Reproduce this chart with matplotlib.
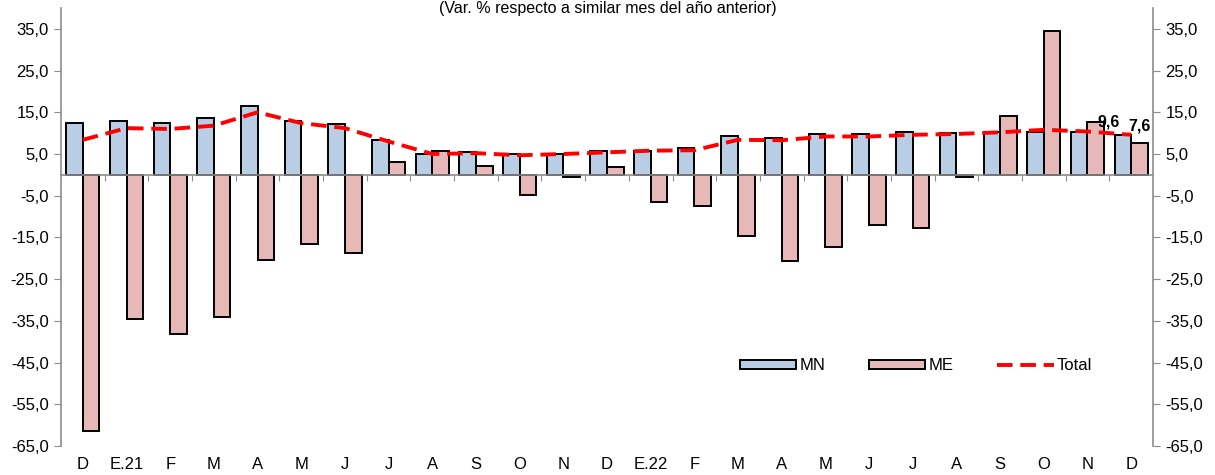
import matplotlib

matplotlib.use("Agg")
import matplotlib.pyplot as plt
from matplotlib.patches import Patch
from matplotlib.lines import Line2D
from matplotlib.ticker import FuncFormatter

plt.rcParams["font.family"] = ["Liberation Sans", "DejaVu Sans"]

months = ["D", "E.21", "F", "M", "A", "M", "J", "J", "A", "S", "O", "N",
          "D", "E.22", "F", "M", "A", "M", "J", "J", "A", "S", "O", "N", "D"]
mn = [12.4, 12.9, 12.5, 13.7, 16.4, 13.0, 12.1, 8.3, 5.0, 5.4, 5.0, 5.0,
      5.6, 5.8, 6.4, 9.3, 8.8, 9.9, 9.7, 10.2, 10.0, 10.2, 10.3, 10.2, 9.6]
me = [-61.4, -34.5, -38.1, -34.0, -20.4, -16.5, -18.7, 3.0, 5.6, 2.1, -4.8, -0.6,
      1.8, -6.5, -7.4, -14.6, -20.6, -17.3, -12.0, -12.7, -0.4, 14.0, 34.5, 12.6, 7.6]
total = [8.4, 11.2, 11.0, 11.8, 15.0, 12.4, 11.2, 8.0, 5.0, 5.2, 4.7, 5.0,
         5.4, 5.8, 5.9, 8.4, 8.3, 9.2, 9.2, 9.6, 9.8, 10.2, 10.8, 10.4, 9.6]
yticks = [35, 25, 15, 5, -5, -15, -25, -35, -45, -55, -65]

c_mn = "#b9cde5"
c_me = "#e6b9b8"
grey = "#8c8c8c"


def main():
    fig = plt.figure(figsize=(12.15, 4.75), dpi=100)
    ax = fig.add_axes([61 / 1215, 1 - 446 / 475, 1092 / 1215, 438 / 475])
    x = list(range(len(months)))
    w = 0.38

    ax.bar([i - w / 2 for i in x], mn, width=w, color=c_mn,
           edgecolor="black", linewidth=1.4, zorder=2)
    ax.bar([i + w / 2 for i in x], me, width=w, color=c_me,
           edgecolor="black", linewidth=1.4, zorder=2)
    ax.plot(x, total, color="red", lw=2.8, linestyle=(0, (4, 2)), zorder=3)

    # etiquetas del último mes
    ax.annotate(f"{total[-1]:.1f}".replace(".", ","), (x[-1], total[-1]),
                xytext=(-16, 9), textcoords="offset points", ha="center",
                va="center", fontsize=11.5, fontweight="bold")
    ax.annotate(f"{me[-1]:.1f}".replace(".", ","), (x[-1] + w / 2, me[-1]),
                xytext=(0, 12), textcoords="offset points", ha="center",
                va="center", fontsize=11.5, fontweight="bold")

    ax.set_xlim(-0.5, len(months) - 0.5)
    ax.set_ylim(-65, 40)
    ax.set_yticks(yticks)
    ax.yaxis.set_major_formatter(FuncFormatter(lambda v, p: f"{v:.1f}".replace(".", ",")))
    ax.tick_params(axis="y", left=True, right=True, labelleft=True, labelright=True,
                   direction="out", length=5, color=grey, labelsize=12, pad=4)

    ax.spines["top"].set_visible(False)
    for s in ["left", "right"]:
        ax.spines[s].set_color(grey)
        ax.spines[s].set_linewidth(1.2)
    ax.spines["bottom"].set_position(("data", 0))
    ax.spines["bottom"].set_color(grey)
    ax.spines["bottom"].set_linewidth(1.2)
    ax.set_xticks([i - 0.5 for i in range(1, len(months))])
    ax.set_xticklabels([])
    ax.tick_params(axis="x", direction="out", length=4, color=grey)

    sec = ax.secondary_xaxis(0.0)
    sec.set_xticks(x)
    sec.set_xticklabels(months, fontsize=12)
    sec.tick_params(length=0, pad=8)
    sec.spines["bottom"].set_visible(False)

    handles = [Patch(facecolor=c_mn, edgecolor="black", linewidth=1.4),
               Patch(facecolor=c_me, edgecolor="black", linewidth=1.4),
               Line2D([], [], color="red", lw=2.8, linestyle=(0, (4, 2)))]
    ax.legend(handles, ["MN", "ME", "Total"], loc="center",
              bbox_to_anchor=(0.783, 0.183), ncol=3, frameon=False,
              fontsize=12, handlelength=3.4, handleheight=0.45,
              handletextpad=0.2, columnspacing=2.6)

    fig.text(0.5, 0.998, "(Var. % respecto a similar mes del año anterior)",
             ha="center", va="top", fontsize=11.5)

    fig.savefig("out.png", dpi=100)


if __name__ == "__main__":
    main()
